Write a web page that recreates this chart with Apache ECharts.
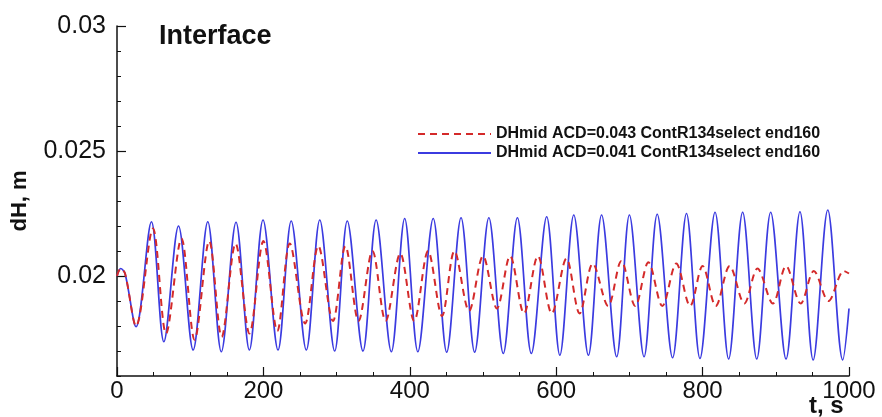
<!DOCTYPE html>
<html>
<head>
<meta charset="utf-8">
<script src="https://cdn.jsdelivr.net/npm/echarts@6/dist/echarts.min.js"></script>
<style>html,body{margin:0;padding:0;background:#fff}#c{width:882px;height:417px}</style>
</head>
<body>
<div id="c"></div>
<script>
const seriesNames = ['DHmid ACD=0.043 ContR134select end160', 'DHmid ACD=0.041 ContR134select end160'];
const xTicks = [0, 200, 400, 600, 800, 1000];
const yTickLabels = [0.02, 0.025, 0.03];

// red dashed series (ACD=0.043)
const redT = [0, 5, 11, 26, 49, 67, 88, 106, 126, 143, 162, 181, 200, 219, 236, 257, 275, 295, 312, 330, 349, 367, 387, 406, 425, 444, 461, 481, 500, 519, 537, 556, 575, 594, 614, 632, 650, 671, 689, 708, 726, 745, 764, 783, 800, 818, 837, 857, 875, 896, 914, 934, 952, 972, 993, 1000];
const redV = [0.0200, 0.0203, 0.0201, 0.0180, 0.0219, 0.0177, 0.0215, 0.01745, 0.0214, 0.01757, 0.0213, 0.0177, 0.0214, 0.0178, 0.0213, 0.0181, 0.0212, 0.0182, 0.0212, 0.0182, 0.0210, 0.0182, 0.0209, 0.0182, 0.0210, 0.0184, 0.0210, 0.0186, 0.0208, 0.0187, 0.0208, 0.0185, 0.0208, 0.0185, 0.0207, 0.0185, 0.0205, 0.0188, 0.0206, 0.0188, 0.02055, 0.0188, 0.0205, 0.0188, 0.0204, 0.0188, 0.0204, 0.0189, 0.0203, 0.0189, 0.0204, 0.0189, 0.0202, 0.0190, 0.0202, 0.0201];

// blue solid series (ACD=0.041)
const blueT = [0, 5, 11, 26, 47, 64, 84, 104, 124, 142.5, 162.6, 180.8, 199.5, 220, 238, 258.6, 277, 297.4, 314.6, 336, 354, 374.8, 393, 411, 432, 450.4, 470, 488.6, 508, 527.7, 547, 566, 587, 605, 624, 644, 662, 682.6, 700, 720, 738, 759, 778, 796.4, 817, 835.6, 854.7, 874, 893, 914, 933, 951, 971, 991.4, 1000];
const blueV = [0.0200, 0.0203, 0.0201, 0.01797, 0.02217, 0.01737, 0.0220, 0.01704, 0.02217, 0.01697, 0.02215, 0.01704, 0.02224, 0.01704, 0.0222, 0.01704, 0.02224, 0.0170, 0.0222, 0.0170, 0.02224, 0.01697, 0.0223, 0.01697, 0.0223, 0.01695, 0.02233, 0.01695, 0.02233, 0.0169, 0.02233, 0.0169, 0.02237, 0.01683, 0.02244, 0.01683, 0.02244, 0.01677, 0.02244, 0.01677, 0.02247, 0.01673, 0.0225, 0.0167, 0.02255, 0.01668, 0.02255, 0.01668, 0.02255, 0.01668, 0.02257, 0.01664, 0.02264, 0.01664, 0.0187];

const FONT = "'Liberation Sans', Arial, Helvetica, sans-serif";
const zip = (t, v) => t.map((x, i) => [x, v[i]]);

const chart = echarts.init(document.getElementById('c'), null, {renderer: 'canvas'});
chart.setOption({
  animation: false,
  backgroundColor: '#fff',
  title: {
    text: 'Interface', left: 159, top: 23, padding: 0,
    textStyle: {fontFamily: FONT, fontSize: 27, fontWeight: 'bold', color: '#111'}
  },
  legend: {
    orient: 'vertical', left: 417, top: 126, padding: 0, itemWidth: 73, itemHeight: 14, itemGap: 3,
    data: seriesNames,
    itemStyle: {opacity: 0},
    textStyle: {fontFamily: FONT, fontSize: 16, fontWeight: 'bold', color: '#111'}
  },
  grid: {left: 117, right: 33, top: 26, bottom: 41, containLabel: false, outerBoundsMode: 'none'},
  xAxis: {
    type: 'value', min: xTicks[0], max: xTicks[xTicks.length - 1], interval: 200,
    axisLine: {lineStyle: {color: '#111', width: 1.5}},
    axisTick: {inside: true, length: 9, lineStyle: {color: '#111', width: 1.2}},
    minorTick: {show: true, splitNumber: 4, length: 4, lineStyle: {color: '#111', width: 1}},
    splitLine: {show: false}, minorSplitLine: {show: false},
    axisLabel: {fontFamily: FONT, fontSize: 24, color: '#111', margin: 3, formatter: v => String(v)}
  },
  yAxis: [{
    type: 'value', min: 0.016, max: 0.03, interval: 0.001,
    axisLine: {show: true, lineStyle: {color: '#111', width: 1.5}},
    axisTick: {inside: true, length: 4, lineStyle: {color: '#111', width: 1}},
    splitLine: {show: false},
    axisLabel: {
      fontFamily: FONT, fontSize: 25, color: '#111', margin: 11,
      formatter: v => {
        const ok = yTickLabels.some(t => Math.abs(t - v) < 1e-7);
        return ok ? String(+v.toFixed(3)) : '';
      }
    },
    name: 'dH, m', nameLocation: 'middle', nameRotate: 90, nameGap: 86,
    nameTextStyle: {fontFamily: FONT, fontSize: 22, fontWeight: 'bold', color: '#111'}
  }, {
    type: 'value', min: 0.016, max: 0.03, position: 'left',
    axisLine: {show: false},
    axisTick: {show: true, inside: true, length: 9, customValues: yTickLabels, lineStyle: {color: '#111', width: 1.2}},
    axisLabel: {show: false},
    splitLine: {show: false}
  }],
  graphic: [{
    type: 'text', left: 809, top: 394,
    style: {text: 't, s', fontFamily: FONT, fontSize: 24, fontWeight: 'bold', fill: '#111'}
  }],
  series: [{
    name: seriesNames[0], type: 'line', data: zip(redT, redV), smooth: 0.33,
    showSymbol: false, symbol: 'none', z: 3,
    lineStyle: {color: '#d42a2a', width: 2, type: [7, 5]},
    itemStyle: {color: '#d42a2a'}
  }, {
    name: seriesNames[1], type: 'line', data: zip(blueT, blueV), smooth: 0.33,
    showSymbol: false, symbol: 'none', z: 2,
    lineStyle: {color: '#3b3be0', width: 1.7},
    itemStyle: {color: '#3b3be0'}
  }]
});
</script>
</body>
</html>
